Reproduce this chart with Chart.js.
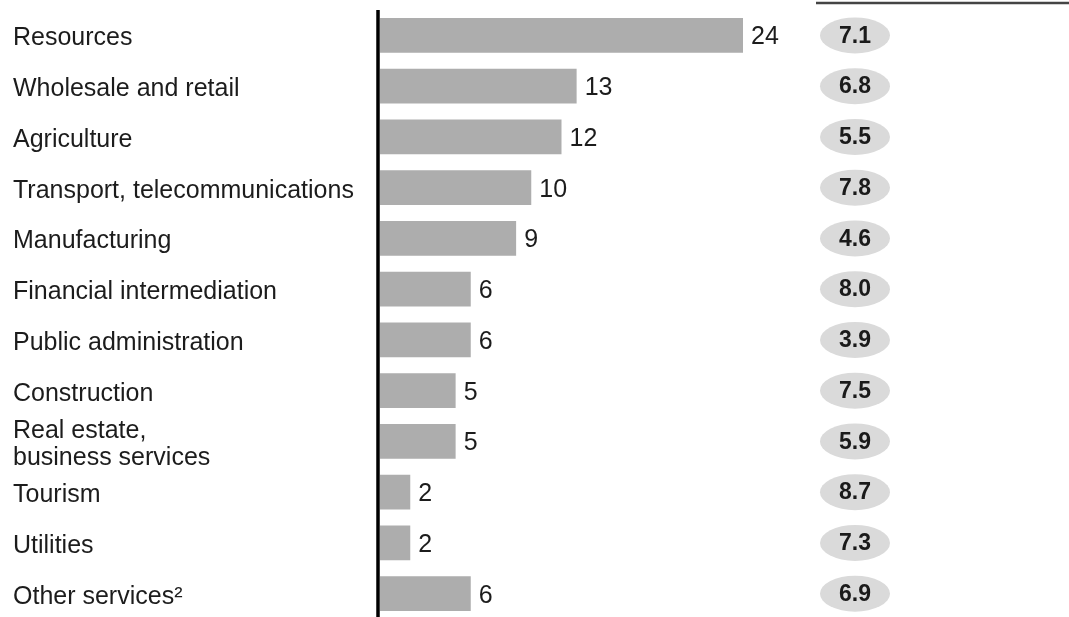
<!DOCTYPE html>
<html>
<head>
<meta charset="utf-8">
<script src="https://cdn.jsdelivr.net/npm/chart.js@4"></script>
<style>
  html, body { margin: 0; padding: 0; background: #fff; overflow: hidden; }
  #wrap { width: 1069px; height: 620px; }
</style>
</head>
<body>
<div id="wrap"><canvas id="sectorChart"></canvas></div>
<script>
// Sector shares (bars) and growth rates (grey pills)
const sectors = [
    "Resources",
    "Wholesale and retail",
    "Agriculture",
    "Transport, telecommunications",
    "Manufacturing",
    "Financial intermediation",
    "Public administration",
    "Construction",
    ["Real estate,", "business services"],
    "Tourism",
    "Utilities",
    "Other services\u00B2"
];
const shares = [24, 13, 12, 10, 9, 6, 6, 5, 5, 2, 2, 6];
const growth = ["7.1", "6.8", "5.5", "7.8", "4.6", "8.0", "3.9", "7.5", "5.9", "8.7", "7.3", "6.9"];
const shareMin = 0;
const shareMax = 40;

const FONT = "'Liberation Sans', Arial, sans-serif";
const TEXT = "#1c1c1c";

// vertical axis line, drawn over the bar bases
const axisLine = {
    id: 'axisLine',
    afterDatasetsDraw(chart) {
        const { ctx, chartArea } = chart;
        ctx.save();
        ctx.strokeStyle = '#000';
        ctx.lineWidth = 3.5;
        ctx.beginPath();
        ctx.moveTo(chartArea.left - 2, chartArea.top);
        ctx.lineTo(chartArea.left - 2, chart.height);
        ctx.stroke();
        // rule above the growth column
        ctx.strokeStyle = '#444';
        ctx.lineWidth = 2.5;
        ctx.beginPath();
        ctx.moveTo(816, 3);
        ctx.lineTo(chart.width, 3);
        ctx.stroke();
        ctx.restore();
    }
};

// numbers at the end of each bar + growth pills
const barLabels = {
    id: 'barLabels',
    afterDatasetsDraw(chart) {
        const { ctx } = chart;
        const meta = chart.getDatasetMeta(0);
        ctx.save();
        ctx.textBaseline = 'middle';
        meta.data.forEach((bar, i) => {
            ctx.fillStyle = TEXT;
            ctx.font = `25px ${FONT}`;
            ctx.textAlign = 'left';
            ctx.fillText(String(shares[i]), bar.x + 8, bar.y + 2);

            const cx = 855;
            ctx.fillStyle = '#dadada';
            ctx.beginPath();
            ctx.ellipse(cx, bar.y, 35, 18, 0, 0, Math.PI * 2);
            ctx.fill();
            ctx.fillStyle = '#1a1a1a';
            ctx.font = `bold 23px ${FONT}`;
            ctx.textAlign = 'center';
            ctx.fillText(growth[i], cx, bar.y + 1);
        });
        ctx.restore();
    }
};

new Chart(document.getElementById('sectorChart'), {
    type: 'bar',
    data: {
        labels: sectors,
        datasets: [{
            data: shares,
            backgroundColor: '#adadad',
            borderWidth: 0,
            barPercentage: 0.68,
            categoryPercentage: 1
        }]
    },
    options: {
        indexAxis: 'y',
        responsive: true,
        maintainAspectRatio: false,
        animation: false,
        layout: { padding: { left: 13, right: 84, top: 10, bottom: 1 } },
        plugins: {
            legend: { display: false },
            tooltip: { enabled: false }
        },
        scales: {
            x: {
                display: false,
                min: shareMin,
                max: shareMax
            },
            y: {
                grid: { display: false },
                border: { display: false },
                afterFit(scale) {
                    scale.width = 367;
                    scale.paddingTop = 0;
                    scale.paddingBottom = 0;
                },
                ticks: {
                    autoSkip: false,
                    crossAlign: 'far',
                    labelOffset: 3,
                    color: TEXT,
                    font: { family: FONT, size: 25, lineHeight: 1.1 }
                }
            }
        }
    },
    plugins: [axisLine, barLabels]
});
</script>
</body>
</html>
